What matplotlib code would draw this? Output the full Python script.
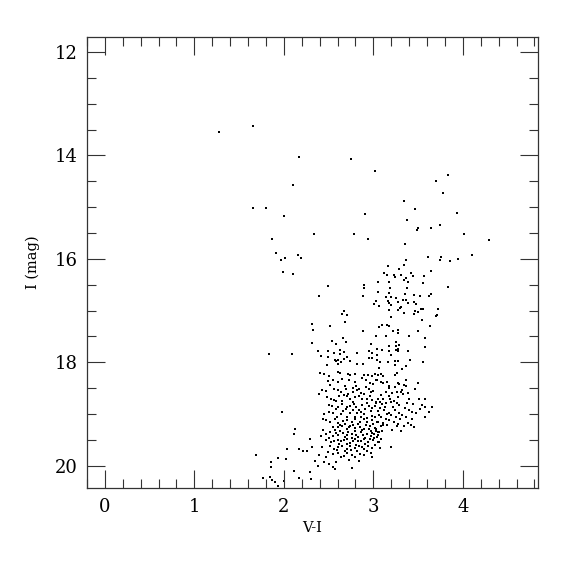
import matplotlib
matplotlib.use("Agg")
import matplotlib.pyplot as plt
from matplotlib.ticker import MultipleLocator
import numpy as np

# ---- data: (V-I, I) pairs, grouped by region ----
bright_stars = [
    (1.27, 13.55), (1.65, 13.44), (2.17, 14.03), (2.75, 14.06), (3.02, 14.31),
    (2.10, 14.58), (1.66, 15.01), (1.80, 15.01), (2.00, 15.17), (2.91, 15.13),
    (2.34, 15.51), (2.78, 15.52), (2.94, 15.61), (1.87, 15.61), (1.91, 15.89),
    (1.97, 16.03), (2.01, 15.99), (2.16, 15.92), (2.19, 15.98), (1.99, 16.25),
    (2.10, 16.29), (2.49, 16.53), (2.89, 16.50), (2.90, 16.57), (3.05, 16.44),
]

upper_rgb = [
    (3.83, 14.38), (3.70, 14.49), (3.78, 14.73), (3.34, 14.89), (3.46, 15.03),
    (3.93, 15.12), (3.38, 15.24), (3.50, 15.40), (3.49, 15.45), (3.64, 15.40),
    (3.75, 15.35), (4.01, 15.51), (4.29, 15.63), (3.35, 15.71), (3.61, 15.96),
    (3.76, 15.96), (3.74, 16.03), (3.86, 16.04), (3.95, 16.01), (4.10, 15.92),
    (3.36, 16.03), (3.16, 16.14), (3.34, 16.12), (3.29, 16.19), (3.42, 16.27),
    (3.12, 16.28), (3.15, 16.32), (3.23, 16.32), (3.24, 16.36), (3.31, 16.31),
    (3.37, 16.37), (3.34, 16.41), (3.44, 16.33), (3.39, 16.44), (3.57, 16.34),
    (3.64, 16.24), (3.56, 16.47), (3.17, 16.44), (3.19, 16.57), (3.38, 16.57),
    (3.83, 16.54),
]

middle_rgb = [
    (2.39, 16.71), (2.88, 16.72), (3.05, 16.64), (3.17, 16.66), (3.14, 16.73),
    (3.20, 16.74), (3.25, 16.75), (3.35, 16.67), (3.45, 16.70), (3.52, 16.71),
    (3.62, 16.72), (3.64, 16.68), (3.03, 16.81), (3.16, 16.81), (3.01, 16.88),
    (3.06, 16.91), (3.18, 16.86), (3.20, 16.89), (3.27, 16.83), (3.33, 16.79),
    (3.37, 16.80), (3.39, 16.86), (3.45, 16.84), (3.48, 16.87), (3.30, 16.95),
    (3.31, 16.94), (3.28, 16.99), (3.34, 17.05), (3.18, 16.98), (3.46, 17.00),
    (3.50, 17.02), (3.53, 16.97), (3.55, 16.97), (3.45, 17.07), (3.72, 16.97),
    (3.71, 17.08), (3.70, 17.11), (3.54, 17.18), (2.67, 17.00), (2.65, 17.06),
    (2.70, 17.08), (3.20, 17.12), (2.68, 17.22), (2.31, 17.26), (2.32, 17.38),
    (2.52, 17.29), (3.06, 17.31), (3.10, 17.28), (3.15, 17.28), (3.17, 17.29),
    (2.88, 17.40), (3.22, 17.39), (3.28, 17.38), (3.28, 17.44), (3.50, 17.39),
    (3.63, 17.30), (3.03, 17.50), (3.14, 17.49), (3.40, 17.50), (3.58, 17.53),
    (2.31, 17.62), (2.54, 17.58), (2.66, 17.53), (2.69, 17.60), (2.58, 17.65),
    (2.97, 17.64), (3.25, 17.60), (3.29, 17.66), (3.25, 17.69), (3.18, 17.69),
    (3.58, 17.71), (2.38, 17.78), (2.49, 17.78), (2.56, 17.82), (2.63, 17.76),
    (2.67, 17.80), (2.63, 17.84), (2.82, 17.82), (2.95, 17.78), (2.98, 17.82),
    (3.04, 17.75), (3.10, 17.76), (3.04, 17.86), (3.17, 17.79), (3.20, 17.86),
    (3.25, 17.76), (3.27, 17.75), (3.28, 17.79), (3.39, 17.78), (2.42, 17.88),
    (2.49, 17.89), (2.57, 17.95), (2.58, 17.97), (2.61, 17.95), (2.64, 18.00),
    (2.67, 17.94), (2.70, 17.89), (2.74, 17.97), (2.48, 18.05), (2.60, 18.03),
    (2.82, 18.04), (2.95, 17.92), (2.99, 17.91), (3.04, 17.95), (3.07, 17.99),
    (3.16, 18.00), (3.24, 17.97), (3.28, 17.97), (3.41, 17.95), (3.55, 17.99),
    (2.88, 18.03), (3.06, 18.11), (3.24, 18.05), (3.32, 18.12), (3.36, 18.07),
    (1.83, 17.83), (2.09, 17.84),
]

clump_left = [
    (2.40, 18.20), (2.45, 18.22), (2.50, 18.27), (2.60, 18.18), (2.63, 18.21),
    (2.72, 18.22), (2.74, 18.24), (2.80, 18.22), (2.89, 18.25), (2.94, 18.24),
    (2.98, 18.27), (3.02, 18.22), (2.49, 18.36), (2.55, 18.35), (2.61, 18.39),
    (2.65, 18.33), (2.73, 18.34), (2.79, 18.38), (2.87, 18.31), (2.92, 18.34),
    (2.96, 18.40), (3.00, 18.42), (3.04, 18.35), (2.39, 18.61), (2.43, 18.54),
    (2.47, 18.56), (2.51, 18.44), (2.56, 18.51), (2.60, 18.54), (2.64, 18.58),
    (2.69, 18.52), (2.72, 18.61), (2.77, 18.57), (2.81, 18.45), (2.82, 18.53),
    (2.84, 18.51), (2.86, 18.60), (2.90, 18.62), (2.95, 18.52), (2.97, 18.58),
    (2.48, 18.67), (2.53, 18.70), (2.58, 18.75), (2.62, 18.65), (2.67, 18.63),
    (2.70, 18.66), (2.74, 18.71), (2.79, 18.67), (2.84, 18.65), (2.89, 18.62),
    (2.93, 18.70), (2.99, 18.72), (3.03, 18.76), (2.50, 18.82), (2.54, 18.85),
    (2.58, 18.91), (2.61, 18.87), (2.65, 18.80), (2.69, 18.91), (2.74, 18.84),
    (2.78, 18.80), (2.81, 18.87), (2.84, 18.92), (2.87, 18.83), (2.91, 18.91),
    (2.95, 18.85), (2.99, 18.89), (3.02, 18.84), (3.05, 18.94), (2.45, 18.99),
    (2.50, 18.97), (2.55, 18.98), (2.59, 19.05), (2.64, 18.99), (2.70, 19.06),
    (2.74, 18.98), (2.79, 19.05), (2.82, 18.98), (2.86, 19.05), (2.89, 19.00),
    (2.93, 19.07), (2.98, 19.03), (3.02, 19.06), (3.06, 19.01), (2.44, 19.09),
    (2.47, 19.11), (2.52, 19.16), (2.57, 19.10), (2.61, 19.18), (2.66, 19.14),
    (2.71, 19.11), (2.76, 19.16), (2.80, 19.10), (2.85, 19.15), (2.89, 19.10),
    (2.93, 19.15), (2.99, 19.11), (3.04, 19.15), (1.98, 18.97),
]

clump_core = [
    (2.63, 19.21), (2.68, 19.19), (2.73, 19.26), (2.77, 19.21), (2.83, 19.19),
    (2.87, 19.30), (2.92, 19.21), (2.97, 19.32), (3.00, 19.19), (2.55, 19.25),
    (2.58, 19.37), (2.63, 19.33), (2.68, 19.45), (2.72, 19.34), (2.76, 19.46),
    (2.79, 19.32), (2.83, 19.44), (2.88, 19.40), (2.91, 19.47), (2.95, 19.29),
    (2.97, 19.43), (3.01, 19.38), (2.56, 19.52), (2.62, 19.58), (2.67, 19.50),
    (2.71, 19.58), (2.77, 19.52), (2.81, 19.59), (2.86, 19.52), (2.91, 19.58),
    (2.96, 19.48), (3.01, 19.46), (2.52, 19.62), (2.59, 19.70), (2.68, 19.72),
    (2.75, 19.69), (2.82, 19.72), (2.87, 19.64), (2.93, 19.71), (2.97, 19.76),
    (2.41, 19.42), (2.47, 19.50), (2.43, 19.64), (2.49, 19.73), (2.39, 19.79),
    (2.64, 19.84), (2.73, 19.88), (2.84, 19.90), (2.58, 19.92), (2.35, 19.90),
    (2.66, 18.95), (2.71, 18.86), (2.77, 18.93), (2.86, 18.96), (2.93, 18.78),
    (2.97, 18.95), (2.56, 18.72), (2.65, 18.74), (2.77, 18.76), (2.87, 18.71),
    (2.96, 18.66), (2.68, 18.45), (2.77, 18.49), (2.92, 18.47), (3.00, 18.56),
    (3.09, 18.63), (3.13, 18.87), (3.22, 18.86), (3.15, 19.00), (3.24, 18.93),
    (3.35, 18.88), (3.28, 19.20), (3.37, 19.05), (3.21, 18.60), (3.28, 18.67),
    (3.18, 18.50), (3.32, 18.53), (3.44, 18.80), (3.54, 18.82), (3.62, 18.96),
]

clump_right = [
    (3.05, 18.24), (3.09, 18.22), (3.11, 18.26), (3.24, 18.24), (3.26, 18.21),
    (3.03, 18.35), (3.08, 18.38), (3.11, 18.40), (3.15, 18.38), (3.17, 18.45),
    (3.24, 18.47), (3.27, 18.40), (3.29, 18.42), (3.34, 18.43), (3.36, 18.35),
    (3.37, 18.45), (3.50, 18.40), (3.46, 18.51), (3.26, 18.58), (3.31, 18.57),
    (3.33, 18.61), (3.39, 18.60), (3.14, 18.58), (3.17, 18.65), (3.19, 18.70),
    (3.11, 18.71), (3.05, 18.71), (3.03, 18.79), (3.07, 18.76), (3.10, 18.80),
    (3.14, 18.79), (3.20, 18.76), (3.23, 18.75), (3.26, 18.79), (3.29, 18.82),
    (3.38, 18.79), (3.40, 18.71), (3.51, 18.71), (3.58, 18.71), (3.58, 18.87),
    (3.65, 18.87), (3.52, 18.91), (3.40, 18.92), (3.43, 18.96), (3.48, 18.98),
    (3.07, 18.89), (3.12, 18.92), (3.17, 18.98), (3.20, 19.02), (3.29, 18.98),
    (3.32, 19.02), (3.25, 19.06), (3.30, 19.09), (3.58, 19.06), (3.43, 19.10),
    (3.09, 19.05), (3.14, 19.10), (3.18, 19.12), (3.23, 19.15), (3.39, 19.18),
    (3.05, 19.15), (3.11, 19.18),
]

faint_left = [
    (2.12, 19.28), (2.11, 19.39), (2.04, 19.68), (2.02, 19.86), (2.17, 19.67),
    (2.21, 19.72), (2.26, 19.72), (2.29, 19.49), (2.31, 19.63), (2.44, 19.31),
    (2.47, 19.39), (2.52, 19.34), (2.57, 19.30), (2.61, 19.26), (2.65, 19.23),
    (2.70, 19.28), (2.74, 19.23), (2.79, 19.27), (2.85, 19.25), (2.90, 19.28),
    (2.96, 19.23), (3.02, 19.27), (3.05, 19.34), (2.50, 19.47), (2.55, 19.43),
    (2.61, 19.40), (2.66, 19.36), (2.70, 19.41), (2.76, 19.38), (2.81, 19.40),
    (2.86, 19.35), (2.93, 19.39), (2.99, 19.36), (3.04, 19.44), (2.53, 19.54),
    (2.60, 19.50), (2.64, 19.53), (2.70, 19.49), (2.74, 19.56), (2.79, 19.49),
    (2.83, 19.53), (2.89, 19.49), (2.94, 19.54), (3.00, 19.50), (3.06, 19.54),
    (2.56, 19.68), (2.61, 19.63), (2.65, 19.62), (2.70, 19.68), (2.74, 19.61),
    (2.79, 19.66), (2.84, 19.62), (2.89, 19.67), (2.94, 19.62), (2.99, 19.66),
    (2.55, 19.77), (2.61, 19.75), (2.67, 19.81), (2.71, 19.76), (2.76, 19.79),
    (2.80, 19.84), (2.85, 19.77), (2.90, 19.80), (2.99, 19.83), (2.47, 19.83),
    (2.45, 19.93), (2.50, 19.96), (2.55, 20.03), (2.57, 20.06), (2.76, 20.05),
    (2.38, 20.01), (2.11, 20.11), (2.17, 20.23), (2.29, 20.12), (2.30, 20.26),
    (1.69, 19.79), (1.86, 19.92), (1.86, 20.03), (1.93, 19.85), (1.77, 20.24),
    (1.85, 20.21), (1.87, 20.27), (1.90, 20.31), (1.93, 20.40), (2.00, 20.30),
]

faint_right = [
    (3.03, 19.28), (3.09, 19.23), (3.11, 19.22), (3.15, 19.22), (3.21, 19.31),
    (3.26, 19.23), (3.31, 19.32), (3.34, 19.23), (3.42, 19.22), (3.45, 19.26),
    (3.03, 19.32), (3.06, 19.35), (3.10, 19.32), (3.05, 19.40), (3.08, 19.48),
    (3.09, 19.49), (3.05, 19.54), (3.02, 19.59), (3.07, 19.66), (3.20, 19.63),
]

groups = [bright_stars, upper_rgb, middle_rgb, clump_left, clump_core,
          clump_right, faint_left, faint_right]
v_minus_i = np.array([p[0] for g in groups for p in g])
i_mag = np.array([p[1] for g in groups for p in g])

x_major_ticks = [0, 1, 2, 3, 4]
y_major_ticks = [12, 14, 16, 18, 20]

# ---- figure ----
plt.rcParams['font.family'] = ['DejaVu Serif']
fig = plt.figure(figsize=(5.75, 5.75), dpi=100)
ax = fig.add_axes([0.1513, 0.1513, 0.7844, 0.7844])

ax.scatter(v_minus_i, i_mag, s=3.0, marker='s', c='black', linewidths=0)

ax.set_xlim(-0.2, 4.84)
ax.set_ylim(20.43, 11.71)
ax.set_xticks(x_major_ticks)
ax.set_yticks(y_major_ticks)
ax.xaxis.set_minor_locator(MultipleLocator(0.2))
ax.yaxis.set_minor_locator(MultipleLocator(0.5))

frame_col = '#333333'
for sp in ax.spines.values():
    sp.set_color(frame_col)
    sp.set_linewidth(0.9)
ax.tick_params(which='both', direction='in', top=True, right=True,
               color=frame_col, width=0.8, labelsize=13)
ax.tick_params(which='major', length=13, pad=7)
ax.tick_params(which='minor', length=6.8)

ax.set_xlabel('V-I', fontsize=10.5, labelpad=4)
ax.set_ylabel('I (mag)', fontsize=10.5, labelpad=10)

fig.savefig('out.png', dpi=100)
